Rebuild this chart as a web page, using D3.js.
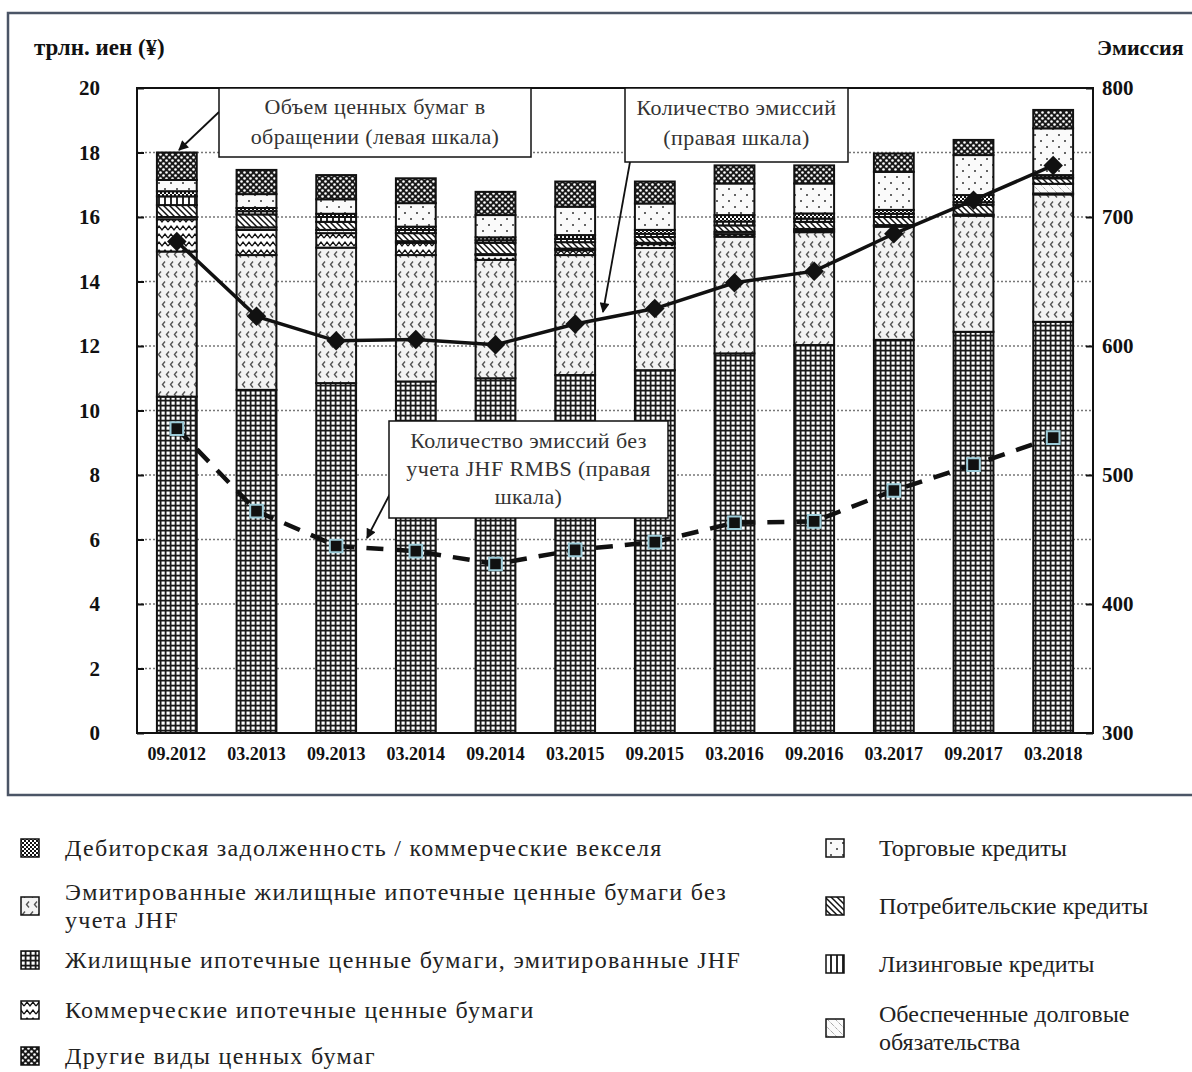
<!DOCTYPE html>
<html>
<head>
<meta charset="utf-8">
<script src="https://cdn.jsdelivr.net/npm/d3@7"></script>
<style>
  body { margin: 0; background: #fff; }
  text { font-family: "Liberation Serif", "Times New Roman", serif; }
</style>
</head>
<body>
<div id="chart"></div>
<script>
// periods on the x axis
var periods = ["09.2012", "03.2013", "09.2013", "03.2014", "09.2014", "03.2015",
               "09.2015", "03.2016", "09.2016", "03.2017", "09.2017", "03.2018"];

// stacked amounts, trillion yen (bottom to top)
var jhfRmbs     = [10.43, 10.64, 10.85, 10.9, 11.0, 11.1, 11.25, 11.77, 12.03, 12.19, 12.44, 12.75];
var rmbsExJhf   = [4.5, 4.18, 4.2, 3.92, 3.67, 3.72, 3.79, 3.62, 3.5, 3.51, 3.6, 3.95];
var cmbs        = [1.0, 0.78, 0.45, 0.38, 0.15, 0.15, 0.12, 0.08, 0.05, 0.03, 0.02, 0.03];
var cdo         = [0.07, 0.08, 0.1, 0.05, 0.03, 0.05, 0.04, 0.07, 0.05, 0.02, 0.02, 0.3];
var consumer    = [0.37, 0.4, 0.25, 0.25, 0.35, 0.2, 0.18, 0.2, 0.22, 0.25, 0.3, 0.17];
var leasing     = [0.27, 0.1, 0.15, 0.1, 0.08, 0.1, 0.1, 0.12, 0.1, 0.1, 0.08, 0.03];
var receivables = [0.16, 0.1, 0.1, 0.1, 0.09, 0.12, 0.12, 0.2, 0.16, 0.12, 0.22, 0.07];
var tradeCredit = [0.35, 0.43, 0.45, 0.73, 0.69, 0.88, 0.82, 0.98, 0.93, 1.18, 1.24, 1.45];
var otherSec    = [0.85, 0.75, 0.75, 0.77, 0.72, 0.78, 0.68, 0.56, 0.56, 0.57, 0.47, 0.57];

// number of issues (right axis)
var issues      = [681, 623, 604, 605, 601, 617, 629, 649, 658, 687, 713, 740];
var issuesExJhf = [536, 472, 445, 441, 431, 442, 448, 463, 464, 488, 508, 529];

var leftTicks = [0, 2, 4, 6, 8, 10, 12, 14, 16, 18, 20];
var rightTicks = [300, 400, 500, 600, 700, 800];

var stackKeys = ["jhf", "rmbs", "cmbs", "cdo", "consumer", "leasing", "recv", "trade", "other"];
var stackValues = {jhf: jhfRmbs, rmbs: rmbsExJhf, cmbs: cmbs, cdo: cdo, consumer: consumer,
                   leasing: leasing, recv: receivables, trade: tradeCredit, other: otherSec};

var legendLeft = [
  {key: "recv", lines: ["Дебиторская задолженность / коммерческие векселя"]},
  {key: "rmbs", lines: ["Эмитированные жилищные ипотечные ценные бумаги без", "учета  JHF"]},
  {key: "jhf", lines: ["Жилищные ипотечные ценные бумаги, эмитированные JHF"]},
  {key: "cmbs", lines: ["Коммерческие ипотечные ценные бумаги"]},
  {key: "other", lines: ["Другие виды ценных бумаг"]}
];
var legendRight = [
  {key: "trade", lines: ["Торговые кредиты"]},
  {key: "consumer", lines: ["Потребительские кредиты"]},
  {key: "leasing", lines: ["Лизинговые кредиты"]},
  {key: "cdo", lines: ["Обеспеченные долговые", "обязательства"]}
];

var svg = d3.select("#chart").append("svg")
  .attr("width", 1192)
  .attr("height", 1072);

var defs = svg.append("defs");

// fill patterns
function pat(id, w, h, bg) {
  var p = defs.append("pattern").attr("id", id)
    .attr("patternUnits", "userSpaceOnUse").attr("width", w).attr("height", h);
  p.append("rect").attr("width", w).attr("height", h).attr("fill", bg);
  return p;
}
var p;
p = pat("p-jhf", 5, 5, "#1a1a1a");
p.append("rect").attr("x", 1.5).attr("y", 1.5).attr("width", 3.2).attr("height", 3.2).attr("fill", "#fff");

p = pat("p-rmbs", 16, 20, "#f3f3f3");
p.append("path").attr("d", "M5,1.5 L2.5,4.5 L5,7.5 M13,1.5 L10.5,4.5 L13,7.5 M9,11.5 L6.5,14.5 L9,17.5 M1,11.5 L-1.5,14.5 L1,17.5 M17,11.5 L14.5,14.5 L17,17.5")
  .attr("fill", "none").attr("stroke", "#555").attr("stroke-width", 1.4);

p = pat("p-cmbs", 12, 8, "#fff");
p.append("path").attr("d", "M0,6 L3,2 L6,6 L9,2 L12,6")
  .attr("fill", "none").attr("stroke", "#111").attr("stroke-width", 1.3);

p = pat("p-cdo", 8, 8, "#fbfbfb");
p.append("path").attr("d", "M0,0 L8,8").attr("stroke", "#777")
  .attr("stroke-width", 0.9).attr("stroke-dasharray", "1,1");

p = pat("p-consumer", 6, 6, "#fff");
p.append("path").attr("d", "M0,0 L6,6 M-1,5 L1,7 M5,-1 L7,1")
  .attr("stroke", "#111").attr("stroke-width", 1.5);

p = pat("p-leasing", 6, 6, "#fff");
p.append("path").attr("d", "M3,0 L3,6").attr("stroke", "#111").attr("stroke-width", 1.8);

p = pat("p-recv", 4, 4, "#fff");
p.append("rect").attr("width", 2).attr("height", 2).attr("fill", "#111");
p.append("rect").attr("x", 2).attr("y", 2).attr("width", 2).attr("height", 2).attr("fill", "#111");

p = pat("p-trade", 12, 12, "#fafafa");
p.append("circle").attr("cx", 3).attr("cy", 3).attr("r", 1).attr("fill", "#333");
p.append("circle").attr("cx", 9).attr("cy", 9).attr("r", 1).attr("fill", "#333");

p = pat("p-other", 6, 6, "#1a1a1a");
p.append("circle").attr("cx", 1.5).attr("cy", 1.5).attr("r", 1.3).attr("fill", "#fff");
p.append("circle").attr("cx", 4.5).attr("cy", 4.5).attr("r", 1.3).attr("fill", "#fff");

defs.append("marker").attr("id", "arrow")
  .attr("viewBox", "0 0 10 10").attr("refX", 9).attr("refY", 5)
  .attr("markerWidth", 12).attr("markerHeight", 10).attr("markerUnits", "userSpaceOnUse")
  .attr("orient", "auto")
  .append("path").attr("d", "M0,0 L10,5 L0,10 Z").attr("fill", "#111");

// outer frame
svg.append("rect")
  .attr("x", 8).attr("y", 13).attr("width", 1192).attr("height", 782)
  .attr("fill", "none").attr("stroke", "#4b5566").attr("stroke-width", 2.5);

// scales
var x = d3.scaleBand().domain(periods).range([137, 1093])
  .paddingInner(0.5).paddingOuter(0.25);
var y = d3.scaleLinear().domain([0, 20]).range([733, 88]);
var yR = d3.scaleLinear().domain([300, 800]).range([733, 88]);

// gridlines
svg.append("g").selectAll("line")
  .data(leftTicks.filter(function(d) { return d > 0 && d < 20; }))
  .enter().append("line")
  .attr("x1", 137).attr("x2", 1093)
  .attr("y1", function(d) { return y(d); }).attr("y2", function(d) { return y(d); })
  .attr("stroke", "#777").attr("stroke-width", 1.5).attr("stroke-dasharray", "2,2");

// stacked bars
var rows = periods.map(function(per, i) {
  var r = {period: per};
  stackKeys.forEach(function(k) { r[k] = stackValues[k][i]; });
  return r;
});
var stacked = d3.stack().keys(stackKeys)(rows);

svg.append("g").selectAll("g")
  .data(stacked)
  .enter().append("g")
  .attr("fill", function(s) { return "url(#p-" + s.key + ")"; })
  .selectAll("rect")
  .data(function(s) { return s; })
  .enter().append("rect")
  .attr("x", function(d) { return x(d.data.period); })
  .attr("width", x.bandwidth())
  .attr("y", function(d) { return y(d[1]); })
  .attr("height", function(d) { return y(d[0]) - y(d[1]); })
  .attr("stroke", "#111").attr("stroke-width", 2);

// plot frame
svg.append("rect")
  .attr("x", 137).attr("y", 88).attr("width", 956).attr("height", 645)
  .attr("fill", "none").attr("stroke", "#111").attr("stroke-width", 2);

// axes
var leftAxis = d3.axisLeft(y).tickValues(leftTicks).tickSizeInner(-7).tickSizeOuter(0).tickPadding(37);
var gL = svg.append("g").attr("transform", "translate(137,0)").call(leftAxis);
var rightAxis = d3.axisRight(yR).tickValues(rightTicks).tickSizeInner(-7).tickSizeOuter(0).tickPadding(9);
var gR = svg.append("g").attr("transform", "translate(1093,0)").call(rightAxis);
var bottomAxis = d3.axisBottom(x).tickSize(0).tickPadding(14);
var gB = svg.append("g").attr("transform", "translate(0,733)").call(bottomAxis);

[gL, gR, gB].forEach(function(g) {
  g.select(".domain").remove();
  g.selectAll(".tick line").attr("stroke", "#111").attr("stroke-width", 2);
  g.selectAll("text").attr("font-family", "Liberation Serif").attr("font-weight", "bold")
    .attr("fill", "#111");
});
gL.selectAll("text").attr("font-size", 21);
gR.selectAll("text").attr("font-size", 21);
gB.selectAll("text").attr("font-size", 18);

// axis titles
svg.append("text").attr("x", 34).attr("y", 55)
  .attr("font-size", 23).attr("font-weight", "bold").attr("fill", "#111")
  .text("трлн. иен (¥)");
svg.append("text").attr("x", 1097).attr("y", 55)
  .attr("font-size", 22).attr("font-weight", "bold").attr("fill", "#111")
  .text("Эмиссия");

// lines
var cx = function(d, i) { return x(periods[i]) + x.bandwidth() / 2; };

svg.append("path")
  .datum(issues)
  .attr("fill", "none").attr("stroke", "#111").attr("stroke-width", 3.5)
  .attr("d", d3.line().x(cx).y(function(d) { return yR(d); }));

svg.append("path")
  .datum(issuesExJhf)
  .attr("fill", "none").attr("stroke", "#111").attr("stroke-width", 4.5)
  .attr("stroke-dasharray", "17,12")
  .attr("d", d3.line().x(cx).y(function(d) { return yR(d); }));

svg.append("g").selectAll("path")
  .data(issues).enter().append("path")
  .attr("d", d3.symbol().type(d3.symbolSquare).size(190))
  .attr("transform", function(d, i) { return "translate(" + cx(d, i) + "," + yR(d) + ") rotate(45)"; })
  .attr("fill", "#111");

svg.append("g").selectAll("path")
  .data(issuesExJhf).enter().append("path")
  .attr("d", d3.symbol().type(d3.symbolSquare).size(160))
  .attr("transform", function(d, i) { return "translate(" + cx(d, i) + "," + yR(d) + ")"; })
  .attr("fill", "#111").attr("stroke", "#9ccbd8").attr("stroke-width", 2);

// callout boxes
function callout(bx, by, bw, bh, lines, lineY, ax1, ay1, ax2, ay2) {
  var g = svg.append("g");
  g.append("line").attr("x1", ax1).attr("y1", ay1).attr("x2", ax2).attr("y2", ay2)
    .attr("stroke", "#111").attr("stroke-width", 1.8).attr("marker-end", "url(#arrow)");
  g.append("rect").attr("x", bx).attr("y", by).attr("width", bw).attr("height", bh)
    .attr("fill", "#fff").attr("stroke", "#111").attr("stroke-width", 1.5);
  lines.forEach(function(t, i) {
    g.append("text").attr("x", bx + bw / 2).attr("y", lineY[i])
      .attr("text-anchor", "middle").attr("font-size", 22).attr("letter-spacing", 0.4)
      .attr("fill", "#333").text(t);
  });
}
callout(219, 88, 312, 69, ["Объем ценных бумаг в", "обращении (левая шкала)"], [114, 144],
        219, 112, 179, 150);
callout(625, 88, 223, 74, ["Количество эмиссий", "(правая шкала)"], [115, 145],
        630, 162, 603, 312);
callout(389, 421, 279, 97, ["Количество эмиссий без", "учета JHF RMBS  (правая", "шкала)"],
        [448, 476, 504], 392, 490, 367, 538);

// legend
function legendCol(items, sx, tx, ys, spacing) {
  items.forEach(function(it, i) {
    var base = ys[i];
    var midY = base - 8 + (it.lines.length - 1) * 14;
    svg.append("rect").attr("x", sx).attr("y", midY - 9).attr("width", 18).attr("height", 18)
      .attr("fill", "url(#p-" + it.key + ")").attr("stroke", "#111").attr("stroke-width", 1.5);
    it.lines.forEach(function(t, j) {
      svg.append("text").attr("x", tx).attr("y", base + j * 28)
        .attr("font-size", 24).attr("letter-spacing", spacing).attr("fill", "#222").text(t);
    });
  });
}
legendCol(legendLeft, 21, 65, [856, 900, 968, 1018, 1064], 1.3);
legendCol(legendRight, 826, 879, [856, 914, 972, 1022], 0);
</script>
</body>
</html>
